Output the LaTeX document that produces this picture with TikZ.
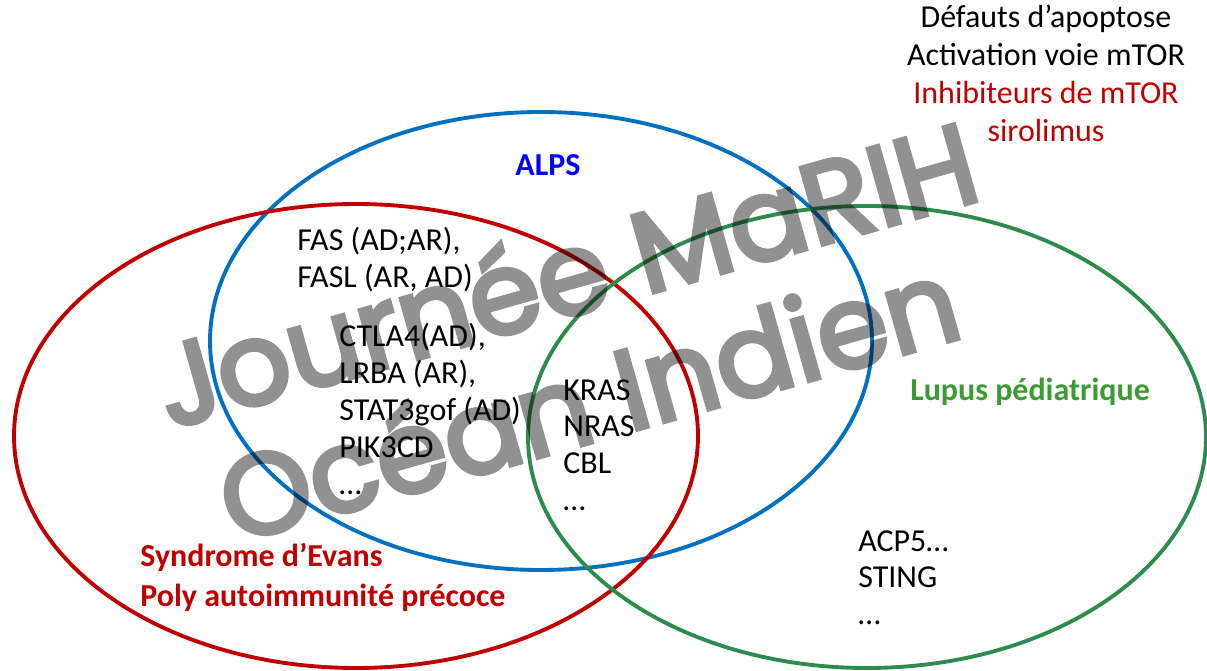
\documentclass[tikz,border=0pt]{standalone}
\usepackage{fontspec}
\setmainfont{Carlito}
\newfontfamily\wmfont[FakeBold=4]{Poppins}
\usetikzlibrary{shapes.geometric}
\definecolor{alpsblue}{HTML}{0070C0}
\definecolor{evansred}{HTML}{C00000}
\definecolor{lupusgreen}{HTML}{2E8B4E}
\definecolor{lupustext}{HTML}{3C9A34}

\begin{document}
\begin{tikzpicture}[x=0.02cm, y=-0.02cm,
  every node/.style={inner sep=0pt, font=\fontsize{18.2}{21}\selectfont},
  set/.style={ellipse, draw, line width=2.2pt, fill=none},
  genes/.style={align=left, anchor=north west},
  title/.style={font=\fontsize{18.2}{22.7}\bfseries\selectfont},
  filigrane/.style={text=black, rotate=15.8, anchor=base,
    font=\wmfont\fontsize{65}{70}\selectfont}]
\useasboundingbox (0,0) rectangle (1207,671);
\node[set, draw=alpsblue, minimum width=662*0.02cm, minimum height=458*0.02cm] (alps) at (541,341) {};
\node[set, draw=evansred, minimum width=684*0.02cm, minimum height=464*0.02cm] (evans) at (356,436) {};
\node[set, draw=lupusgreen, minimum width=678*0.02cm, minimum height=462*0.02cm] (lupus) at (867,437) {};
\node[align=center, anchor=north, font=\fontsize{18.2}{21.5}\selectfont] (mtor) at (1046,5) {D\'efauts d’apoptose\\Activation voie mTOR\\\textcolor{evansred}{Inhibiteurs de mTOR}\\\textcolor{evansred}{sirolimus}};
\node[title, text=blue] (alpslab) at (548,165) {ALPS};
\node[title, text=lupustext] (lupuslab) at (1030,392) {Lupus p\'ediatrique};
\node[title, text=evansred, align=left, anchor=north west] (evanslab) at (140,543) {Syndrome d’Evans\\Poly autoimmunit\'e pr\'ecoce};
\node[genes] (fas) at (297,227) {FAS (AD;AR),\\FASL (AR, AD)};
\node[genes] (ctla) at (339,323) {CTLA4(AD),\\LRBA (AR),\\STAT3gof (AD)\\PIK3CD\\…};
\node[genes] (ras) at (563,379) {KRAS\\NRAS\\CBL\\…};
\node[genes] (acp) at (858,530) {ACP5…\\STING\\…};
% filigrane
\begin{scope}[transparency group, opacity=0.43]
\node[filigrane] (wm1) at (577,314) {Journ\'ee MaRIH};
\node[filigrane] (wm2) at (600,440) {Oc\'ean Indien};
\end{scope}
\end{tikzpicture}
\end{document}
